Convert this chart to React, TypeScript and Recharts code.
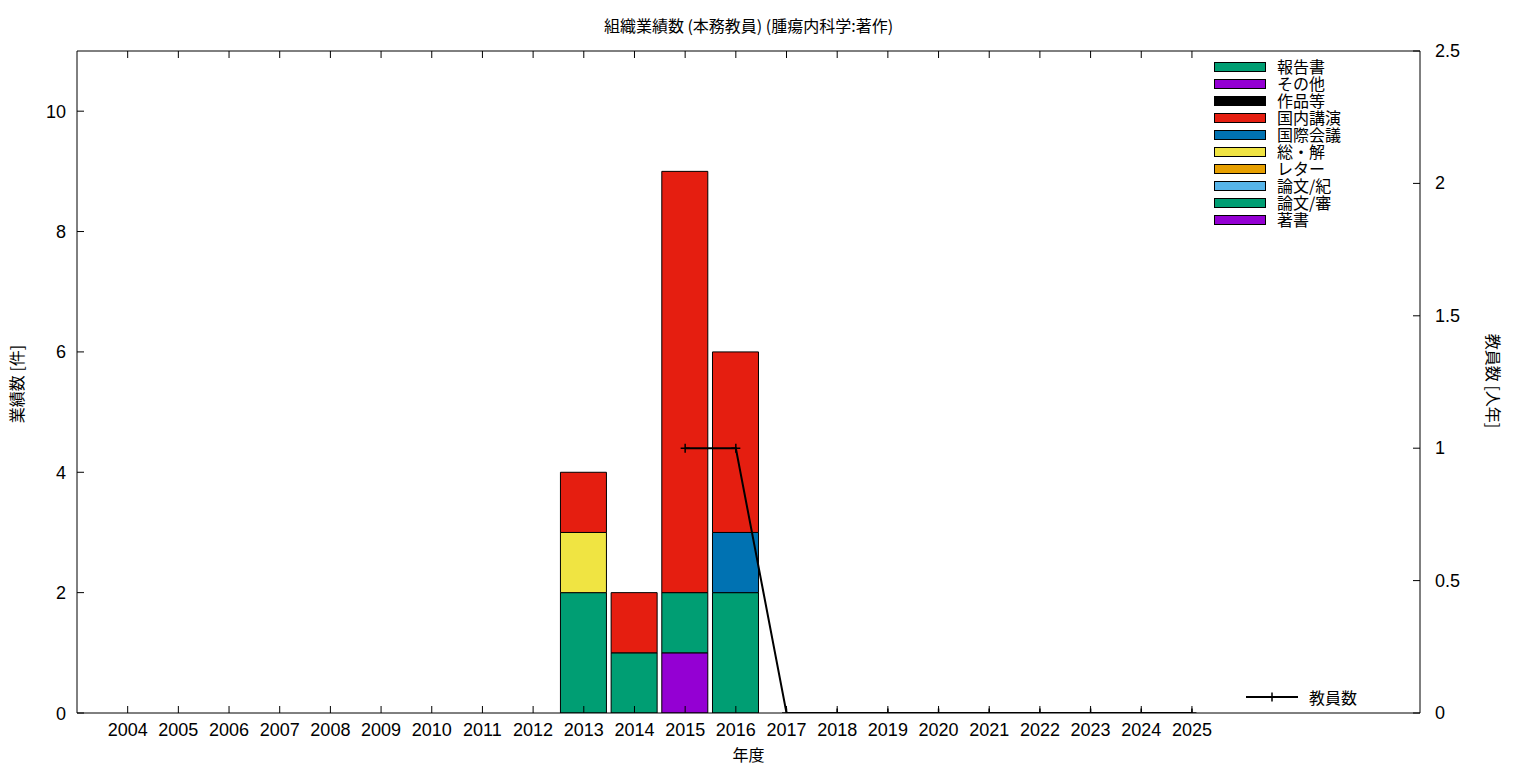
import React from 'react';
import { ComposedChart, Bar, Line, XAxis, YAxis } from 'recharts';

const years = [2004, 2005, 2006, 2007, 2008, 2009, 2010, 2011, 2012, 2013, 2014, 2015, 2016, 2017, 2018, 2019, 2020, 2021, 2022, 2023, 2024, 2025];

// stacked from bottom to top
const seriesNames = ['著書', '論文/審', '論文/紀', 'レター', '総・解', '国際会議', '国内講演', '作品等', 'その他', '報告書'];
const seriesColors = ['#9400d3', '#009e73', '#56b4e9', '#e69f00', '#f0e442', '#0072b2', '#e51e10', '#000000', '#9400d3', '#009e73'];

const chosho = [0, 0, 0, 0, 0, 0, 0, 0, 0, 0, 0, 1, 0, 0, 0, 0, 0, 0, 0, 0, 0, 0];
const ronbunShin = [0, 0, 0, 0, 0, 0, 0, 0, 0, 2, 1, 1, 2, 0, 0, 0, 0, 0, 0, 0, 0, 0];
const ronbunKi = [0, 0, 0, 0, 0, 0, 0, 0, 0, 0, 0, 0, 0, 0, 0, 0, 0, 0, 0, 0, 0, 0];
const letter = [0, 0, 0, 0, 0, 0, 0, 0, 0, 0, 0, 0, 0, 0, 0, 0, 0, 0, 0, 0, 0, 0];
const soKai = [0, 0, 0, 0, 0, 0, 0, 0, 0, 1, 0, 0, 0, 0, 0, 0, 0, 0, 0, 0, 0, 0];
const kokusai = [0, 0, 0, 0, 0, 0, 0, 0, 0, 0, 0, 0, 1, 0, 0, 0, 0, 0, 0, 0, 0, 0];
const kokunai = [0, 0, 0, 0, 0, 0, 0, 0, 0, 1, 1, 7, 3, 0, 0, 0, 0, 0, 0, 0, 0, 0];
const sakuhin = [0, 0, 0, 0, 0, 0, 0, 0, 0, 0, 0, 0, 0, 0, 0, 0, 0, 0, 0, 0, 0, 0];
const sonota = [0, 0, 0, 0, 0, 0, 0, 0, 0, 0, 0, 0, 0, 0, 0, 0, 0, 0, 0, 0, 0, 0];
const hokoku = [0, 0, 0, 0, 0, 0, 0, 0, 0, 0, 0, 0, 0, 0, 0, 0, 0, 0, 0, 0, 0, 0];

const teachers = [null, null, null, null, null, null, null, null, null, null, null, 1, 1, 0, 0, 0, 0, 0, 0, 0, 0, 0];

const leftTicks = [0, 2, 4, 6, 8, 10];
const rightTicks = [0, 0.5, 1, 1.5, 2, 2.5];

const seriesValues = [chosho, ronbunShin, ronbunKi, letter, soKai, kokusai, kokunai, sakuhin, sonota, hokoku];

const data = years.map((year, i) => {
  const row: Record<string, number | null> = { year, teachers: teachers[i] };
  seriesValues.forEach((vals, s) => {
    row['s' + s] = vals[i];
  });
  return row;
});

const FONT = '"Liberation Sans", "Noto Sans CJK JP", sans-serif';
const CJK = '"Noto Sans CJK JP", sans-serif';

const BottomTick = (props: any) => {
  const { x, y, payload } = props;
  return (
    <g>
      <line x1={x} y1={y} x2={x} y2={y - 7} stroke="#000" />
      <text x={x} y={y + 23} textAnchor="middle" fontSize={18} fontFamily={FONT} fill="#000">
        {payload.value}
      </text>
    </g>
  );
};

const TopTick = (props: any) => {
  const { x, y } = props;
  return <line x1={x} y1={y} x2={x} y2={y + 7} stroke="#000" />;
};

const LeftTick = (props: any) => {
  const { x, y, payload } = props;
  return (
    <g>
      <line x1={x} y1={y} x2={x + 7} y2={y} stroke="#000" />
      <text x={x - 11} y={y + 6.5} textAnchor="end" fontSize={18} fontFamily={FONT} fill="#000">
        {payload.value}
      </text>
    </g>
  );
};

const RightTick = (props: any) => {
  const { x, y, payload } = props;
  return (
    <g>
      <line x1={x} y1={y} x2={x - 7} y2={y} stroke="#000" />
      <text x={x + 15} y={y + 6} textAnchor="start" fontSize={18} fontFamily={FONT} fill="#000">
        {payload.value}
      </text>
    </g>
  );
};

const PlusDot = (props: any) => {
  const { cx, cy, index } = props;
  if (cx == null || cy == null) return <g key={'d' + index} />;
  return (
    <path
      key={'d' + index}
      d={`M${cx - 4.5},${cy}h9M${cx},${cy - 4.5}v9`}
      stroke="#000"
      strokeWidth={1.5}
      fill="none"
    />
  );
};

export default function App() {
  const legendOrder = seriesNames.map((_, i) => i).reverse();
  return (
    <div style={{ position: 'absolute', left: 0, top: 0, width: 1536, height: 768, background: '#fff', fontFamily: FONT }}>
      <ComposedChart
        width={1536}
        height={768}
        data={data}
        margin={{ top: 50, right: 56, bottom: 25, left: 17 }}
      >
        <XAxis
          dataKey="year"
          type="number"
          domain={[2003, 2029.5]}
          ticks={years}
          interval={0}
          allowDataOverflow
          height={30}
          tickSize={0}
          tickMargin={0}
          tickLine={false}
          axisLine={{ stroke: '#000' }}
          tick={<BottomTick />}
        />
        <XAxis
          xAxisId="top"
          orientation="top"
          dataKey="year"
          type="number"
          domain={[2003, 2029.5]}
          ticks={years}
          interval={0}
          allowDataOverflow
          height={1}
          tickSize={0}
          tickMargin={0}
          tickLine={false}
          axisLine={{ stroke: '#000' }}
          tick={<TopTick />}
        />
        <YAxis
          yAxisId="left"
          domain={[0, 11]}
          ticks={leftTicks}
          interval={0}
          allowDataOverflow
          width={60}
          tickSize={0}
          tickMargin={0}
          tickLine={false}
          axisLine={{ stroke: '#000' }}
          tick={<LeftTick />}
        />
        <YAxis
          yAxisId="right"
          orientation="right"
          domain={[0, 2.5]}
          ticks={rightTicks}
          interval={0}
          allowDataOverflow
          width={60}
          tickSize={0}
          tickMargin={0}
          tickLine={false}
          axisLine={{ stroke: '#000' }}
          tick={<RightTick />}
        />
        {seriesNames.map((name, i) => (
          <Bar
            key={name}
            dataKey={'s' + i}
            name={name}
            yAxisId="left"
            stackId="a"
            fill={seriesColors[i]}
            stroke="#000"
            strokeWidth={1}
            barSize={46}
            isAnimationActive={false}
          />
        ))}
        <Line
          dataKey="teachers"
          name="教員数"
          yAxisId="right"
          stroke="#000"
          strokeWidth={2}
          dot={PlusDot}
          activeDot={false}
          connectNulls={false}
          isAnimationActive={false}
        />
      </ComposedChart>

      <div style={{ position: 'absolute', left: 0, width: 1497, top: 14, textAlign: 'center', fontSize: 16, fontFamily: CJK, lineHeight: '22px' }}>
        組織業績数 (本務教員) (腫瘍内科学:著作)
      </div>
      <div style={{ position: 'absolute', left: 0, width: 1497, top: 743, textAlign: 'center', fontSize: 16, fontFamily: CJK, lineHeight: '22px' }}>
        年度
      </div>
      <div style={{ position: 'absolute', left: 16, top: 384, width: 0, height: 0 }}>
        <div style={{ position: 'absolute', transform: 'translate(-50%, -50%) rotate(-90deg)', whiteSpace: 'nowrap', fontSize: 16, fontFamily: CJK, lineHeight: '22px' }}>
          業績数 [件]
        </div>
      </div>
      <div style={{ position: 'absolute', left: 1494, top: 381, width: 0, height: 0 }}>
        <div style={{ position: 'absolute', transform: 'translate(-50%, -50%) rotate(90deg)', whiteSpace: 'nowrap', fontSize: 16, fontFamily: CJK, lineHeight: '22px' }}>
          教員数 [人年]
        </div>
      </div>

      {legendOrder.map((s, row) => (
        <div key={s} style={{ position: 'absolute', left: 1214, top: 58 + row * 17, height: 17, display: 'flex', alignItems: 'center' }}>
          <div style={{ width: 50, height: 8, border: '1px solid #000', background: seriesColors[s] }} />
          <div style={{ marginLeft: 11, height: 17, overflow: 'visible', whiteSpace: 'nowrap', fontSize: 16, fontFamily: CJK, lineHeight: '17px' }}>{seriesNames[s]}</div>
        </div>
      ))}

      <div style={{ position: 'absolute', left: 1246, top: 686, height: 22, display: 'flex', alignItems: 'center' }}>
        <svg width={52} height={22}>
          <line x1={0} y1={11} x2={52} y2={11} stroke="#000" strokeWidth={2} />
          <line x1={26} y1={6.5} x2={26} y2={15.5} stroke="#000" strokeWidth={1.5} />
        </svg>
        <span style={{ marginLeft: 11, fontSize: 16, fontFamily: CJK, lineHeight: '22px' }}>教員数</span>
      </div>
    </div>
  );
}
